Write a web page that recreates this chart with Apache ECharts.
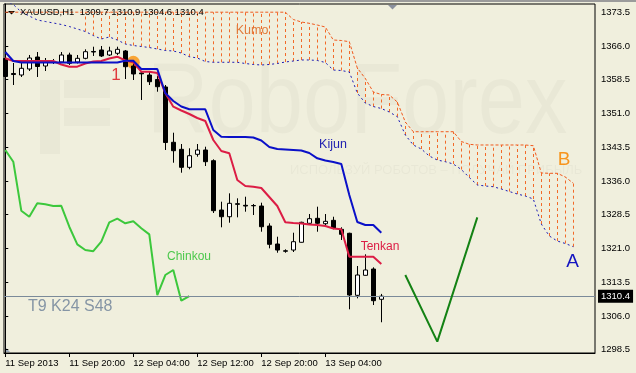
<!DOCTYPE html>
<html><head><meta charset="utf-8">
<script src="https://cdn.jsdelivr.net/npm/echarts@6.0.0/dist/echarts.min.js"></script>
<style>html,body{margin:0;padding:0;background:#f0efdd;}#c{width:636px;height:373px;}</style>
</head><body><div id="c"></div><script>
const symbol = 'XAUUSD,H1';
const xTickIndex = [0, 8, 16, 24, 32, 40];
const xTickLabels = ['11 Sep 2013', '11 Sep 20:00', '12 Sep 04:00', '12 Sep 12:00', '12 Sep 20:00', '13 Sep 04:00'];
const yTicks = [1298.5, 1306.0, 1313.5, 1321.0, 1328.5, 1336.0, 1343.5, 1351.0, 1358.5, 1366.0, 1373.5];

const opens = [1363.21,1359.88,1359.54,1360.88,1363.54,1361.54,1362.54,1362.43,1363.99,1362.43,
  1363.25,1364.77,1365.10,1363.99,1364.37,1364.88,1361.54,1359.99,1359.54,1358.54,
  1356.88,1344.59,1343.03,1339.03,1341.92,1342.88,1340.50,1329.54,1328.05,1330.94,
  1330.59,1330.54,1330.43,1325.99,1321.99,1320.48,1320.65,1322.37,1326.59,1327.70,
  1326.50,1327.25,1325.25,1324.37,1310.59,1315.03,1316.43,1309.7];
const closes = [1359.21,1359.65,1361.03,1363.32,1361.43,1362.43,1362.43,1363.99,1362.14,1363.25,
  1364.72,1364.65,1363.77,1364.88,1365.25,1361.39,1359.77,1359.81,1358.05,1356.94,
  1344.54,1342.72,1339.03,1341.61,1342.88,1340.28,1329.39,1328.05,1331.03,1330.81,
  1330.43,1330.48,1325.83,1321.92,1320.65,1320.39,1322.50,1326.81,1327.61,1326.59,
  1327.03,1325.48,1324.14,1310.65,1315.10,1316.21,1309.39,1310.4];
const lows = [1358.65,1357.32,1359.10,1360.43,1359.10,1360.43,1361.99,1362.21,1361.77,1362.10,
  1363.03,1363.77,1363.54,1363.77,1363.99,1358.65,1358.43,1353.99,1357.32,1355.83,
  1342.88,1340.05,1337.83,1338.59,1341.39,1339.32,1328.88,1325.70,1326.72,1327.92,
  1329.17,1328.43,1324.72,1321.03,1320.05,1320.05,1320.21,1322.32,1326.54,1324.72,
  1325.83,1325.25,1322.88,1307.48,1309.92,1314.99,1308.43,1304.6];
const highs = [1364.65,1362.21,1362.43,1363.99,1364.65,1363.32,1363.10,1364.65,1364.50,1363.99,
  1365.25,1365.83,1365.99,1365.83,1365.83,1365.10,1362.88,1360.28,1360.28,1359.32,
  1357.32,1346.72,1344.21,1343.25,1344.21,1343.61,1340.81,1331.39,1333.25,1332.14,
  1332.50,1330.88,1331.17,1326.59,1323.61,1320.81,1324.50,1326.94,1328.65,1330.28,
  1328.65,1328.05,1325.70,1324.50,1317.10,1319.70,1316.81,1310.9];

const tenkan = [1363.25,1362.65,1362.65,1362.65,1362.65,1362.65,1362.65,1361.88,1361.39,1361.39,
  1362.10,1362.54,1362.65,1363.21,1363.61,1362.77,1362.37,1360.28,1360.28,1359.99,
  1355.54,1352.50,1351.65,1350.88,1349.99,1349.32,1345.10,1342.65,1342.14,1336.21,
  1334.88,1334.72,1334.43,1332.43,1330.43,1326.81,1326.65,1326.54,1326.32,1326.21,
  1325.99,1325.43,1325.25,1319.17,1319.17,1319.17,1319.17,1317.54];
const kijun = [1364.65,1362.65,1362.32,1362.32,1362.32,1362.32,1362.32,1362.32,1362.32,1362.32,
  1362.32,1362.32,1362.32,1362.32,1362.32,1362.72,1362.72,1360.88,1360.88,1360.88,
  1355.54,1353.77,1352.54,1351.92,1351.92,1351.92,1347.32,1345.83,1345.77,1345.77,
  1345.77,1345.65,1344.99,1343.54,1343.10,1342.99,1342.88,1342.77,1342.21,1341.03,
  1340.54,1340.21,1339.77,1332.88,1326.88,1326.21,1326.21,1324.50];
const chinkou = [1342.88,1340.28,1329.39,1328.05,1331.03,1330.81,1330.43,1330.48,1325.83,1321.92,
  1320.65,1320.39,1322.50,1326.81,1327.61,1326.59,1327.03,1325.48,1324.14,1310.65,
  1315.10,1316.21,1309.39,1310.4];
const senkouA = [1376.0,1375.21,1373.54,1372.65,1371.77,1371.43,1371.10,1370.77,1370.32,1369.77,
  1369.21,1368.32,1367.54,1367.99,1367.32,1366.43,1366.10,1365.88,1365.65,1365.32,
  1364.99,1364.88,1364.43,1363.61,1363.32,1362.54,1362.37,1362.37,1362.37,1362.37,
  1362.10,1361.88,1361.77,1361.88,1362.10,1362.43,1362.65,1362.88,1362.88,1362.77,
  1362.32,1360.65,1360.54,1360.21,1355.54,1353.32,1352.54,1352.10,1351.32,1350.28,
  1346.21,1343.99,1343.10,1341.54,1340.65,1340.28,1339.77,1338.54,1336.77,1335.10,
  1334.88,1334.72,1334.21,1333.65,1333.10,1332.65,1331.99,1326.43,1323.77,1322.65,
  1322.10,1321.39];
const senkouB = [1373.5,1373.5,1373.5,1373.5,1373.5,1373.5,1373.5,1373.5,1373.5,1373.5,
  1373.5,1373.5,1373.5,1373.5,1373.5,1373.5,1373.5,1373.5,1373.5,1373.5,
  1373.5,1373.5,1373.5,1373.5,1373.5,1373.5,1373.5,1373.5,1373.5,1373.5,
  1373.5,1373.5,1373.5,1373.5,1373.5,1373.5,1371.88,1371.32,1371.03,1370.65,
  1370.21,1367.32,1367.21,1366.94,1361.10,1358.77,1355.77,1355.21,1355.10,1353.54,
  1349.10,1346.94,1346.94,1346.94,1346.94,1346.94,1346.94,1344.77,1344.14,1343.99,
  1343.99,1343.99,1343.99,1343.99,1343.99,1343.99,1343.83,1337.77,1337.70,1337.70,
  1336.88,1335.48];
const kumoHatchFrom = 10;
const forecast = [[50, 1315.1], [54, 1300.3], [59, 1327.9]];
const signalPoint = [[16, 1362.37]];

const last = closes.length - 1;
const F = 'Liberation Sans';

const chart = echarts.init(document.getElementById('c'), null, {renderer: 'canvas'});
chart.setOption({
  animation: false,
  backgroundColor: '#f0efdd',
  textStyle: {fontFamily: F},
  grid: {left: 4, top: 4, right: 41, bottom: 20, show: true, borderColor: '#000', borderWidth: 1, backgroundColor: 'transparent'},
  xAxis: {
    type: 'value', min: -0.16, max: 73.71,
    axisLine: {show: true, lineStyle: {color: '#000'}},
    axisTick: {show: true, customValues: xTickIndex, length: 4, lineStyle: {color: '#000'}},
    axisLabel: {customValues: xTickIndex, formatter: v => xTickLabels[xTickIndex.indexOf(v)], align: 'left',
      fontSize: 9.5, color: '#000', margin: 5, fontFamily: F},
    splitLine: {show: false}
  },
  yAxis: {
    type: 'value', position: 'right', min: 1297.77, max: 1375.32,
    axisLine: {show: true, lineStyle: {color: '#000'}},
    axisTick: {show: true, customValues: yTicks, length: 3, lineStyle: {color: '#000'}},
    axisLabel: {customValues: yTicks, formatter: v => v.toFixed(1), fontSize: 9.5, color: '#000', margin: 6, fontFamily: F},
    splitLine: {show: false}
  },
  series: [
    {
      type: 'custom', name: 'kumo', z: 1, silent: true, clip: true,
      encode: {x: 0, y: [1, 2]},
      data: senkouA.map((a, i) => [i, a, senkouB[i]]).slice(kumoHatchFrom),
      renderItem: (p, api) => {
        const a = api.coord([api.value(0), api.value(1)]);
        const b = api.coord([api.value(0), api.value(2)]);
        const x = Math.round(a[0]) + 0.5;
        return {type: 'line', shape: {x1: x, y1: a[1], x2: x, y2: b[1]},
          style: {stroke: '#f26a28', lineWidth: 1, lineDash: [3, 3]}};
      }
    },
    {type: 'line', name: 'Senkou B', z: 2, data: senkouB.map((v, i) => [i, v]), showSymbol: false, symbol: 'none',
      lineStyle: {color: '#f05a1e', width: 1, type: [3, 2]}},
    {type: 'line', name: 'Senkou A', z: 2, data: senkouA.map((v, i) => [i, v]), showSymbol: false, symbol: 'none',
      lineStyle: {color: '#1a1ab4', width: 1, type: [2, 3]}},
    {type: 'scatter', name: 'signal', z: 2, data: signalPoint, symbolSize: 13,
      itemStyle: {color: '#f9a02a', opacity: 0.95}},
    {type: 'line', name: 'Chinkou', z: 3, data: chinkou.map((v, i) => [i, v]), showSymbol: false, symbol: 'none',
      lineStyle: {color: '#3cc83c', width: 2}},
    {
      type: 'candlestick', name: symbol, z: 4, barWidth: 5,
      encode: {x: 0, y: [1, 2, 3, 4]},
      data: opens.map((o, i) => [i, o, closes[i], lows[i], highs[i]]),
      itemStyle: {color: '#ffffff', color0: '#000000', borderColor: '#000000', borderColor0: '#000000', borderWidth: 1},
      markLine: {
        silent: true, symbol: ['none', 'none'],
        lineStyle: {color: '#7b8a99', width: 1, type: 'solid'},
        label: {show: true, position: 'end', formatter: closes[last].toFixed(1), backgroundColor: '#000', color: '#fff',
          padding: [2, 3, 1, 3], fontSize: 9.5, distance: 3, fontFamily: F},
        data: [{yAxis: closes[last]}]
      }
    },
    {type: 'line', name: 'Tenkan', z: 5, data: tenkan.map((v, i) => [i, v]), showSymbol: false, symbol: 'none',
      lineStyle: {color: '#dc1d45', width: 2}},
    {type: 'line', name: 'Kijun', z: 5, data: kijun.map((v, i) => [i, v]), showSymbol: false, symbol: 'none',
      lineStyle: {color: '#0a10c8', width: 2}},
    {type: 'line', name: 'forecast', z: 5, data: forecast, showSymbol: false, symbol: 'none',
      lineStyle: {color: '#148214', width: 2}}
  ],
  graphic: [
    {type: 'rect', silent: true, z: -10, shape: {x: 0, y: 0, width: 636, height: 2}, style: {fill: '#9b9b9b'}},
    {type: 'group', silent: true, z: -5, children: [
      {type: 'rect', shape: {x: 40, y: 80, width: 20, height: 74}, style: {fill: 'rgba(0,0,0,0.028)'}},
      {type: 'rect', shape: {x: 64, y: 80, width: 46, height: 18}, style: {fill: 'rgba(0,0,0,0.028)'}},
      {type: 'rect', shape: {x: 64, y: 108, width: 46, height: 18}, style: {fill: 'rgba(0,0,0,0.028)'}},
      {type: 'text', x: 147, y: 155, scaleX: 0.85, style: {text: 'RoboForex', fontSize: 100, fontFamily: F,
        fill: 'rgba(0,0,0,0.028)', textVerticalAlign: 'bottom'}},
      {type: 'text', x: 290, y: 170, style: {text: 'ИСПОЛЬЗУЙ РОБОТОВ – ПОЛУЧАЙ ПРИБЫЛЬ', fontSize: 13, fontFamily: F,
        fill: 'rgba(0,0,0,0.03)', textVerticalAlign: 'middle'}}
    ]},
    {type: 'polygon', silent: true, shape: {points: [[388, 5], [397, 5], [392.5, 9.5]]}, style: {fill: '#8a909e'}},
    {type: 'polygon', silent: true, shape: {points: [[8, 11], [15, 11], [11.5, 14.5]]}, style: {fill: '#000'}},
    {type: 'polygon', silent: true, shape: {points: [[5, 347], [5, 352], [10, 352]]}, style: {fill: '#9aa8b6'}},
    {type: 'text', silent: true, z: 10, x: 20, y: 12.5, style: {
      text: symbol + '  ' + opens[last].toFixed(1) + ' ' + highs[last].toFixed(1) + ' ' + lows[last].toFixed(1) + ' ' + closes[last].toFixed(1),
      fontSize: 9.5, fontFamily: F, fill: '#000', textVerticalAlign: 'middle'}},
    {type: 'text', silent: true, z: 10, x: 252, y: 30.5, style: {text: 'Kumo', fontSize: 12.5, fontFamily: F, fill: '#e07a3a', textAlign: 'center', textVerticalAlign: 'middle'}},
    {type: 'text', silent: true, z: 10, x: 333, y: 145, style: {text: 'Kijun', fontSize: 12.5, fontFamily: F, fill: '#1e1eb0', textAlign: 'center', textVerticalAlign: 'middle'}},
    {type: 'text', silent: true, z: 10, x: 380, y: 246.5, style: {text: 'Tenkan', fontSize: 12, fontFamily: F, fill: '#dc1d45', textAlign: 'center', textVerticalAlign: 'middle'}},
    {type: 'text', silent: true, z: 10, x: 189, y: 256.5, style: {text: 'Chinkou', fontSize: 12, fontFamily: F, fill: '#4cc84c', textAlign: 'center', textVerticalAlign: 'middle'}},
    {type: 'text', silent: true, z: 10, x: 564, y: 160, style: {text: 'B', fontSize: 19, fontFamily: F, fill: '#f7941d', textAlign: 'center', textVerticalAlign: 'middle'}},
    {type: 'text', silent: true, z: 10, x: 572.5, y: 262, style: {text: 'A', fontSize: 19, fontFamily: F, fill: '#1414c0', textAlign: 'center', textVerticalAlign: 'middle'}},
    {type: 'text', silent: true, z: 10, x: 116, y: 75.5, style: {text: '1', fontSize: 17, fontFamily: F, fill: '#e0393e', textAlign: 'center', textVerticalAlign: 'middle'}},
    {type: 'text', silent: true, z: 10, x: 28, y: 307, style: {text: 'T9 K24 S48', fontSize: 16, fontFamily: F, fill: '#8595a5', textVerticalAlign: 'middle'}}
  ]
});
</script></body></html>
